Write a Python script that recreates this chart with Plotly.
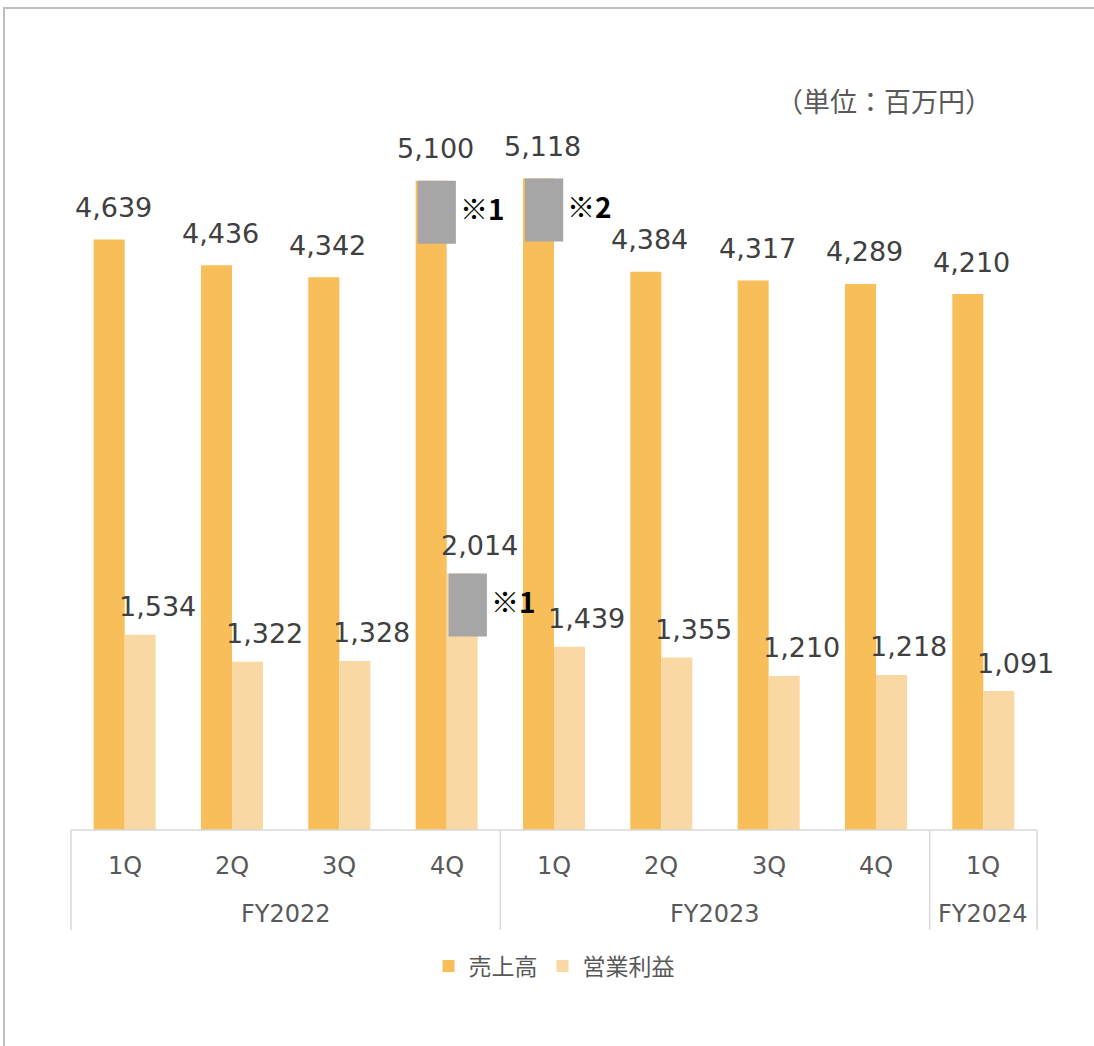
import plotly.graph_objects as go

# ---- data ----
fiscal_years = ["FY2022", "FY2022", "FY2022", "FY2022",
                "FY2023", "FY2023", "FY2023", "FY2023", "FY2024"]
quarters = ["1Q", "2Q", "3Q", "4Q", "1Q", "2Q", "3Q", "4Q", "1Q"]
sales = [4639, 4436, 4342, 5100, 5118, 4384, 4317, 4289, 4210]
operating_profit = [1534, 1322, 1328, 2014, 1439, 1355, 1210, 1218, 1091]
series_names = ["売上高", "営業利益"]
# notes: (series index, category index, note mark)
notes = [(0, 3, "※1"), (0, 4, "※2"), (1, 3, "※1")]
unit_text = "（単位：百万円）"

# ---- style ----
C_SALES = "#F7BE5A"
C_OP = "#F9D8A3"
C_MASK = "#A6A6A6"
C_LINE = "#D9D9D9"
C_LABEL = "#404040"
C_AXIS = "#595959"
LATIN = "DejaVu Sans"
CJK = "Noto Sans CJK JP"

W, H = 1094, 1046
ML, MR, MT, MB = 71, 57, 100, 216
BARGAP = 0.422
bar_w = (1 - BARGAP) / 2
y_max = 5734

xs = list(range(len(quarters)))
series_vals = [sales, operating_profit]
colors = [C_SALES, C_OP]

fig = go.Figure()
for name, vals, col in zip(series_names, series_vals, colors):
    fig.add_trace(go.Bar(x=xs, y=vals, name=name, marker=dict(color=col, line=dict(width=0)),
                         hoverinfo="skip"))

annotations = []
shapes = []

# value labels
label_shift = [(4, 32), (17, 28)]
for si, vals in enumerate(series_vals):
    offset = (-0.5 + si) * bar_w
    for i, v in enumerate(vals):
        annotations.append(dict(x=i + offset, y=v, xref="x", yref="y", text=f"{v:,}",
                                showarrow=False, xanchor="center", yanchor="middle",
                                xshift=label_shift[si][0], yshift=label_shift[si][1],
                                font=dict(family=LATIN, size=27, color=C_LABEL)))

# gray masks with note marks
for si, ci, mark in notes:
    v = series_vals[si][ci]
    left = ci + (-1 + si) * bar_w + 0.018
    right = left + 0.357
    shapes.append(dict(type="rect", xref="x", yref="y", x0=left, x1=right,
                       y0=v - 495, y1=v, fillcolor=C_MASK, line=dict(width=0), layer="above"))
    annotations.append(dict(x=right, y=v - 247, xref="x", yref="y", text=f"<b>{mark}</b>",
                            showarrow=False, xanchor="left", yanchor="middle", xshift=2, yshift=4,
                            font=dict(family=CJK, size=28, color="#000000")))

# category axis labels
n = len(quarters)
for i, q in enumerate(quarters):
    annotations.append(dict(x=i, y=0, xref="x", yref="paper", text=q, showarrow=False,
                            xanchor="center", yanchor="middle", yshift=-36,
                            font=dict(family=LATIN, size=24, color=C_AXIS)))
# groups
groups = []
for i, fy in enumerate(fiscal_years):
    if groups and groups[-1][0] == fy:
        groups[-1][2] = i
    else:
        groups.append([fy, i, i])
plot_h = H - MT - MB
plot_w = W - ML - MR
box_bottom = -100 / plot_h
for fy, a, b in groups:
    annotations.append(dict(x=(a + b) / 2, y=0, xref="x", yref="paper", text=fy, showarrow=False,
                            xanchor="center", yanchor="middle", yshift=-84,
                            font=dict(family=LATIN, size=24, color=C_AXIS)))
boundaries = [groups[0][1] - 0.5] + [g[2] + 0.5 for g in groups]
for bnd in boundaries:
    px = (bnd + 0.5) / n
    shapes.append(dict(type="line", xref="paper", yref="paper", x0=px, x1=px, y0=0, y1=box_bottom,
                       line=dict(color=C_LINE, width=1.5)))
shapes.append(dict(type="line", xref="paper", yref="paper", x0=0, x1=1, y0=0, y1=0,
                   line=dict(color=C_LINE, width=1.5)))

# outer frame
shapes.append(dict(type="rect", xref="paper", yref="paper",
                   x0=(4 - ML) / plot_w, x1=(W + 20 - ML) / plot_w,
                   y0=-(MB + 20) / plot_h, y1=(H - MB - 8) / plot_h,
                   line=dict(color="#BFBFBF", width=2), fillcolor="rgba(0,0,0,0)"))

# unit text
annotations.append(dict(x=(994 - ML) / plot_w, y=(H - MB - 100) / plot_h, xref="paper", yref="paper",
                        text=unit_text, showarrow=False, xanchor="right", yanchor="middle",
                        font=dict(family=CJK, size=27, color=C_AXIS)))

fig.update_layout(
    width=W, height=H,
    margin=dict(l=ML, r=MR, t=MT, b=MB, pad=0),
    paper_bgcolor="white", plot_bgcolor="white",
    barmode="group", bargap=BARGAP, bargroupgap=0,
    xaxis=dict(range=[-0.5, n - 0.5], showticklabels=False, showgrid=False, zeroline=False,
               ticks="", showline=False),
    yaxis=dict(range=[0, y_max], visible=False, showgrid=False, zeroline=False),
    showlegend=True,
    legend=dict(orientation="h", x=0.5, xanchor="center", y=-(966 - (H - MB)) / plot_h,
                yanchor="middle", font=dict(family=CJK, size=23, color=C_AXIS),
                itemclick=False, bgcolor="rgba(0,0,0,0)"),
    shapes=shapes, annotations=annotations,
)

fig.write_html("out.html", config={"displayModeBar": False},
               post_script="document.body.style.margin='0px';")
